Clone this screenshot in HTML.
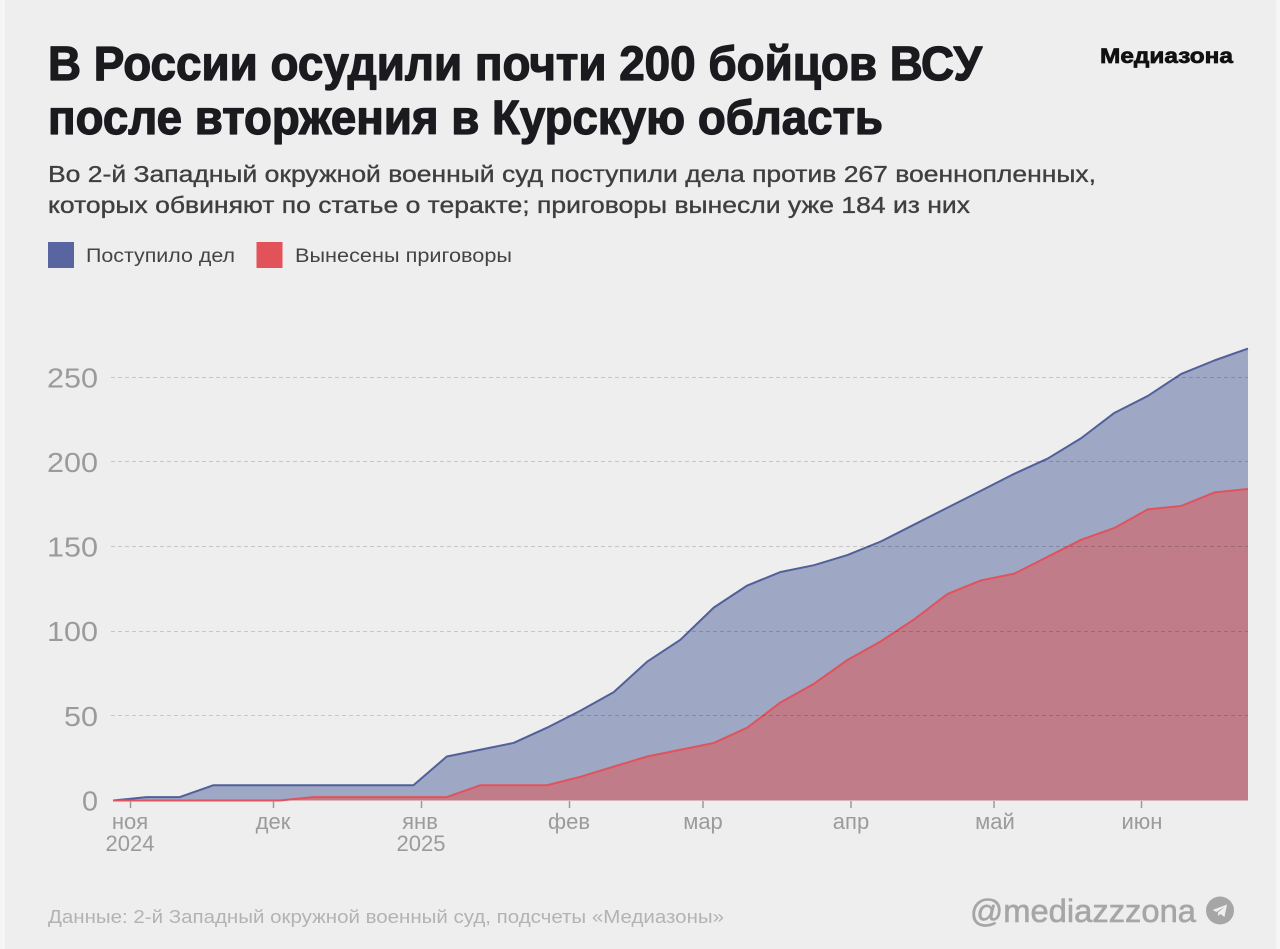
<!DOCTYPE html>
<html>
<head>
<meta charset="utf-8">
<style>
  html, body { margin:0; padding:0; background:#eeeeee; }
  body { width:1280px; height:949px; overflow:hidden; }
  svg { display:block; }
  text { font-family:"Liberation Sans", "DejaVu Sans", sans-serif; }
</style>
</head>
<body>
<svg width="1280" height="949" viewBox="0 0 1280 949" xmlns="http://www.w3.org/2000/svg">
  <rect x="0" y="0" width="1280" height="949" fill="#eeeeee"/>
  <rect x="0" y="0" width="5" height="949" fill="#f6f6f6"/>
  <rect x="1276" y="0" width="4" height="949" fill="#f6f6f6"/>

  <!-- Title -->
  <text x="48" y="80" font-size="48" font-weight="bold" fill="#1b1b1f" stroke="#1b1b1f" stroke-width="1.3" stroke-linejoin="round" textLength="934" lengthAdjust="spacingAndGlyphs">В России осудили почти 200 бойцов ВСУ</text>
  <text x="48" y="134" font-size="48" font-weight="bold" fill="#1b1b1f" stroke="#1b1b1f" stroke-width="1.3" stroke-linejoin="round" textLength="835" lengthAdjust="spacingAndGlyphs">после вторжения в Курскую область</text>

  <!-- Logo -->
  <text x="1100" y="63" font-size="21" font-weight="bold" fill="#111" stroke="#111" stroke-width="0.7" textLength="133" lengthAdjust="spacingAndGlyphs">Медиазона</text>

  <!-- Subtitle -->
  <text x="48" y="182" font-size="23" fill="#3f3f3f" stroke="#3f3f3f" stroke-width="0.35" textLength="1048" lengthAdjust="spacingAndGlyphs">Во 2-й Западный окружной военный суд поступили дела против 267 военнопленных,</text>
  <text x="48" y="213" font-size="23" fill="#3f3f3f" stroke="#3f3f3f" stroke-width="0.35" textLength="922" lengthAdjust="spacingAndGlyphs">которых обвиняют по статье о теракте; приговоры вынесли уже 184 из них</text>

  <!-- Legend -->
  <rect x="48" y="242" width="26" height="26" fill="#5865a0"/>
  <text x="86" y="262" font-size="19" fill="#444" textLength="149" lengthAdjust="spacingAndGlyphs">Поступило дел</text>
  <rect x="256.5" y="242" width="26" height="26" fill="#e15259"/>
  <text x="295" y="262" font-size="19" fill="#444" textLength="217" lengthAdjust="spacingAndGlyphs">Вынесены приговоры</text>

  <!-- Areas -->
  <g transform="translate(113 800.5) scale(33.382 -1.6928)">
    <polygon fill="#9ea8c4" points="0,0 1,2 2,2 3,9 4,9 5,9 6,9 7,9 8,9 9,9 10,26 11,30 12,34 13,43 14,53 15,64 16,82 17,95 18,114 19,127 20,135 21,139 22,145 23,153 24,163 25,173 26,183 27,193 28,202 29,214 30,229 31,239 32,252 33,260 34,267 34,0"/>
    <polygon fill="#c07c88" points="0,0 1,0 2,0 3,0 4,0 5,0 6,2 7,2 8,2 9,2 10,2 11,9 12,9 13,9 14,14 15,20 16,26 17,30 18,34 19,43 20,58 21,69 22,83 23,94 24,107 25,122 26,130 27,134 28,144 29,154 30,161 31,172 32,174 33,182 34,184 34,0"/>
    <polyline fill="none" stroke="#51609a" stroke-width="2" stroke-linejoin="round" vector-effect="non-scaling-stroke" points="0,0 1,2 2,2 3,9 4,9 5,9 6,9 7,9 8,9 9,9 10,26 11,30 12,34 13,43 14,53 15,64 16,82 17,95 18,114 19,127 20,135 21,139 22,145 23,153 24,163 25,173 26,183 27,193 28,202 29,214 30,229 31,239 32,252 33,260 34,267"/>
    <polyline fill="none" stroke="#e0535c" stroke-width="2" stroke-linejoin="round" vector-effect="non-scaling-stroke" points="0,0 1,0 2,0 3,0 4,0 5,0 6,2 7,2 8,2 9,2 10,2 11,9 12,9 13,9 14,14 15,20 16,26 17,30 18,34 19,43 20,58 21,69 22,83 23,94 24,107 25,122 26,130 27,134 28,144 29,154 30,161 31,172 32,174 33,182 34,184"/>
  </g>

  <!-- Gridlines -->
  <g stroke="#000" stroke-opacity="0.17" stroke-width="1" stroke-dasharray="4 3">
    <line x1="111" y1="377.5" x2="1248" y2="377.5"/>
    <line x1="111" y1="461.5" x2="1248" y2="461.5"/>
    <line x1="111" y1="546.5" x2="1248" y2="546.5"/>
    <line x1="111" y1="631.5" x2="1248" y2="631.5"/>
    <line x1="111" y1="715.5" x2="1248" y2="715.5"/>
  </g>

  <!-- Y labels -->
  <g font-size="28" fill="#9b9b9b">
    <text x="47" y="387.3" textLength="51" lengthAdjust="spacingAndGlyphs">250</text>
    <text x="47" y="471.9" textLength="51" lengthAdjust="spacingAndGlyphs">200</text>
    <text x="47" y="556.6" textLength="51" lengthAdjust="spacingAndGlyphs">150</text>
    <text x="47" y="641.2" textLength="51" lengthAdjust="spacingAndGlyphs">100</text>
    <text x="64" y="725.9" textLength="34" lengthAdjust="spacingAndGlyphs">50</text>
    <text x="82" y="810.5" textLength="16" lengthAdjust="spacingAndGlyphs">0</text>
  </g>

  <!-- X ticks -->
  <g stroke="#9b9b9b" stroke-width="1.5">
    <line x1="130.5" y1="801" x2="130.5" y2="808"/>
    <line x1="273.5" y1="801" x2="273.5" y2="808"/>
    <line x1="421.5" y1="801" x2="421.5" y2="808"/>
    <line x1="569.5" y1="801" x2="569.5" y2="808"/>
    <line x1="703" y1="801" x2="703" y2="808"/>
    <line x1="851" y1="801" x2="851" y2="808"/>
    <line x1="994" y1="801" x2="994" y2="808"/>
    <line x1="1141.5" y1="801" x2="1141.5" y2="808"/>
  </g>

  <!-- X labels -->
  <g font-size="22" fill="#9b9b9b" text-anchor="middle">
    <text x="130" y="829">ноя</text>
    <text x="130" y="851">2024</text>
    <text x="273" y="829">дек</text>
    <text x="420" y="829">янв</text>
    <text x="421" y="851">2025</text>
    <text x="569" y="829">фев</text>
    <text x="703" y="829">мар</text>
    <text x="851" y="829">апр</text>
    <text x="995" y="829">май</text>
    <text x="1142" y="829">июн</text>
  </g>

  <!-- Footer -->
  <text x="48" y="923" font-size="18.5" fill="#b3b3b3" textLength="676" lengthAdjust="spacingAndGlyphs">Данные: 2-й Западный окружной военный суд, подсчеты «Медиазоны»</text>
  <text x="970" y="922" font-size="32" fill="#a6a6a6" stroke="#a6a6a6" stroke-width="0.6" textLength="226" lengthAdjust="spacingAndGlyphs">@mediazzzona</text>
  <g transform="translate(1220 910.5)">
    <circle cx="0" cy="0" r="14" fill="#a6a6a6"/>
    <path d="M -7.5 -0.5 L 7 -6 L 4.5 6.5 L 0.5 3.5 L -2 5.5 L -2 2 L 5 -4 L -3.5 1.5 Z" fill="#eeeeee"/>
  </g>
</svg>
</body>
</html>
